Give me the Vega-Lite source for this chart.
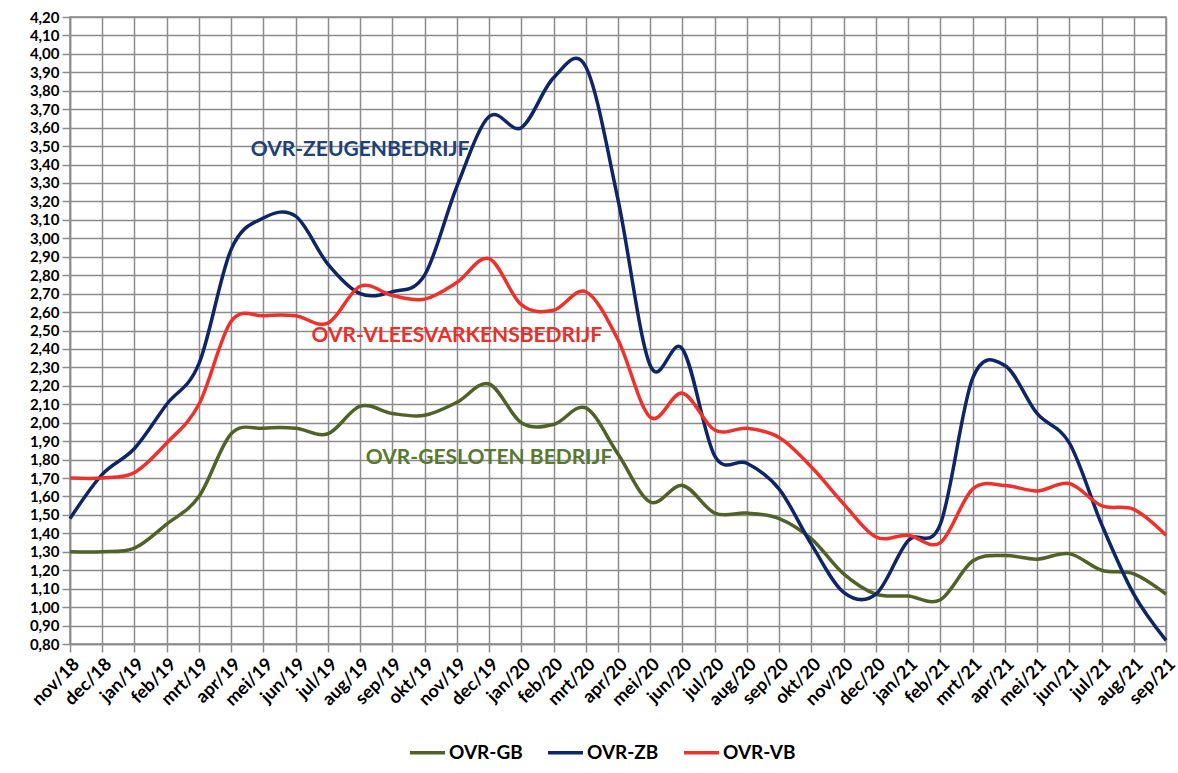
{
  "$schema": "https://vega.github.io/schema/vega-lite/v6.json",
  "width": 1096,
  "height": 627,
  "padding": {"left": 28, "top": 10, "right": 10, "bottom": 5},
  "background": "white",
  "config": {
    "font": "Lato",
    "view": {"stroke": "#8c8c8c", "strokeWidth": 1.5}
  },
  "datasets": {
    "ovr": [
      {"maand": "nov/18", "OVR-GB": 1.30, "OVR-ZB": 1.48, "OVR-VB": 1.70},
      {"maand": "dec/18", "OVR-GB": 1.30, "OVR-ZB": 1.72, "OVR-VB": 1.70},
      {"maand": "jan/19", "OVR-GB": 1.32, "OVR-ZB": 1.86, "OVR-VB": 1.73},
      {"maand": "feb/19", "OVR-GB": 1.45, "OVR-ZB": 2.10, "OVR-VB": 1.89},
      {"maand": "mrt/19", "OVR-GB": 1.60, "OVR-ZB": 2.32, "OVR-VB": 2.10},
      {"maand": "apr/19", "OVR-GB": 1.94, "OVR-ZB": 2.94, "OVR-VB": 2.55},
      {"maand": "mei/19", "OVR-GB": 1.97, "OVR-ZB": 3.11, "OVR-VB": 2.58},
      {"maand": "jun/19", "OVR-GB": 1.97, "OVR-ZB": 3.12, "OVR-VB": 2.58},
      {"maand": "jul/19", "OVR-GB": 1.94, "OVR-ZB": 2.86, "OVR-VB": 2.54},
      {"maand": "aug/19", "OVR-GB": 2.09, "OVR-ZB": 2.70, "OVR-VB": 2.74},
      {"maand": "sep/19", "OVR-GB": 2.05, "OVR-ZB": 2.71, "OVR-VB": 2.69},
      {"maand": "okt/19", "OVR-GB": 2.04, "OVR-ZB": 2.80, "OVR-VB": 2.67},
      {"maand": "nov/19", "OVR-GB": 2.11, "OVR-ZB": 3.28, "OVR-VB": 2.76},
      {"maand": "dec/19", "OVR-GB": 2.21, "OVR-ZB": 3.66, "OVR-VB": 2.89},
      {"maand": "jan/20", "OVR-GB": 2.00, "OVR-ZB": 3.60, "OVR-VB": 2.64},
      {"maand": "feb/20", "OVR-GB": 1.99, "OVR-ZB": 3.87, "OVR-VB": 2.61},
      {"maand": "mrt/20", "OVR-GB": 2.08, "OVR-ZB": 3.93, "OVR-VB": 2.71},
      {"maand": "apr/20", "OVR-GB": 1.83, "OVR-ZB": 3.21, "OVR-VB": 2.45},
      {"maand": "mei/20", "OVR-GB": 1.57, "OVR-ZB": 2.31, "OVR-VB": 2.03},
      {"maand": "jun/20", "OVR-GB": 1.66, "OVR-ZB": 2.40, "OVR-VB": 2.16},
      {"maand": "jul/20", "OVR-GB": 1.51, "OVR-ZB": 1.82, "OVR-VB": 1.96},
      {"maand": "aug/20", "OVR-GB": 1.51, "OVR-ZB": 1.78, "OVR-VB": 1.97},
      {"maand": "sep/20", "OVR-GB": 1.48, "OVR-ZB": 1.64, "OVR-VB": 1.92},
      {"maand": "okt/20", "OVR-GB": 1.37, "OVR-ZB": 1.34, "OVR-VB": 1.76},
      {"maand": "nov/20", "OVR-GB": 1.18, "OVR-ZB": 1.08, "OVR-VB": 1.56},
      {"maand": "dec/20", "OVR-GB": 1.07, "OVR-ZB": 1.07, "OVR-VB": 1.38},
      {"maand": "jan/21", "OVR-GB": 1.06, "OVR-ZB": 1.36, "OVR-VB": 1.39},
      {"maand": "feb/21", "OVR-GB": 1.04, "OVR-ZB": 1.45, "OVR-VB": 1.35},
      {"maand": "mrt/21", "OVR-GB": 1.25, "OVR-ZB": 2.24, "OVR-VB": 1.64},
      {"maand": "apr/21", "OVR-GB": 1.28, "OVR-ZB": 2.31, "OVR-VB": 1.66},
      {"maand": "mei/21", "OVR-GB": 1.26, "OVR-ZB": 2.05, "OVR-VB": 1.63},
      {"maand": "jun/21", "OVR-GB": 1.29, "OVR-ZB": 1.89, "OVR-VB": 1.67},
      {"maand": "jul/21", "OVR-GB": 1.20, "OVR-ZB": 1.45, "OVR-VB": 1.55},
      {"maand": "aug/21", "OVR-GB": 1.18, "OVR-ZB": 1.07, "OVR-VB": 1.53},
      {"maand": "sep/21", "OVR-GB": 1.07, "OVR-ZB": 0.82, "OVR-VB": 1.39}
    ]
  },
  "encoding": {
    "x": {
      "field": "maand", "type": "ordinal", "sort": null,
      "scale": {"type": "point", "padding": 0},
      "axis": {
        "title": null, "labelAngle": -45, "labelFontSize": 18, "labelFontWeight": "bold",
        "labelColor": "black", "grid": true, "gridColor": "#8c8c8c", "gridWidth": 1.5,
        "tickColor": "#8c8c8c", "tickWidth": 1.5, "tickSize": 8, "domainColor": "#8c8c8c",
        "domainWidth": 1.5, "labelPadding": 3
      }
    },
    "y": {
      "field": "waarde", "type": "quantitative",
      "scale": {"domain": [0.8, 4.2], "nice": false, "zero": false},
      "axis": {
        "title": null,
        "values": [0.8, 0.9, 1.0, 1.1, 1.2, 1.3, 1.4, 1.5, 1.6, 1.7, 1.8, 1.9, 2.0, 2.1, 2.2, 2.3, 2.4, 2.5, 2.6, 2.7, 2.8, 2.9, 3.0, 3.1, 3.2, 3.3, 3.4, 3.5, 3.6, 3.7, 3.8, 3.9, 4.0, 4.1, 4.2],
        "labelExpr": "replace(format(datum.value, '.2f'), '.', ',')",
        "labelFontSize": 15, "labelFontWeight": "bold", "labelColor": "black",
        "grid": true, "gridColor": "#8c8c8c", "gridWidth": 1.5,
        "tickColor": "#8c8c8c", "tickWidth": 1.5, "tickSize": 8,
        "domainColor": "#8c8c8c", "domainWidth": 1.5, "labelPadding": 3,
        "labelFlush": false, "labelOverlap": false
      }
    }
  },
  "layer": [
    {
      "data": {"name": "ovr"},
      "transform": [{"fold": ["OVR-GB", "OVR-ZB", "OVR-VB"], "as": ["reeks", "waarde"]}],
      "mark": {"type": "line", "interpolate": "cardinal", "strokeWidth": 3.5},
      "encoding": {
        "color": {
          "field": "reeks", "type": "nominal",
          "scale": {"domain": ["OVR-GB", "OVR-ZB", "OVR-VB"], "range": ["#4f6228", "#0e2568", "#f0302a"]},
          "legend": {
            "title": null, "orient": "none", "direction": "horizontal",
            "legendX": 338, "legendY": 716,
            "symbolType": "stroke", "symbolStrokeWidth": 3.5, "symbolSize": 1225,
            "labelFontSize": 19, "labelFontWeight": "bold", "labelColor": "black",
            "labelOffset": 2, "columnPadding": 18
          }
        }
      }
    },
    {
      "data": {"values": [{"maand": "aug/19", "waarde": 3.48, "tekst": "OVR-ZEUGENBEDRIJF"}]},
      "mark": {"type": "text", "fontSize": 21, "fontWeight": "bold", "color": "#1f4078", "align": "center", "baseline": "middle"},
      "encoding": {"text": {"field": "tekst"}}
    },
    {
      "data": {"values": [{"maand": "nov/19", "waarde": 2.47, "tekst": "OVR-VLEESVARKENSBEDRIJF"}]},
      "mark": {"type": "text", "fontSize": 21, "fontWeight": "bold", "color": "#e8312a", "align": "center", "baseline": "middle"},
      "encoding": {"text": {"field": "tekst"}}
    },
    {
      "data": {"values": [{"maand": "dec/19", "waarde": 1.81, "tekst": "OVR-GESLOTEN BEDRIJF"}]},
      "mark": {"type": "text", "fontSize": 21, "fontWeight": "bold", "color": "#587a2e", "align": "center", "baseline": "middle"},
      "encoding": {"text": {"field": "tekst"}}
    }
  ]
}
